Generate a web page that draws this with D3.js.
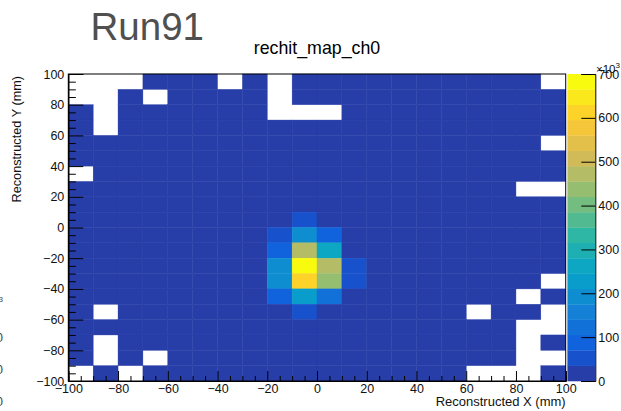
<!DOCTYPE html>
<html>
<head>
<meta charset="utf-8">
<script src="https://cdn.jsdelivr.net/npm/d3@7/dist/d3.min.js"></script>
<style>
  body { margin: 0; background: #fff; }
  text { font-family: "Liberation Sans", Arial, Helvetica, sans-serif; }
</style>
</head>
<body>
<svg id="canvas" width="621" height="411"></svg>
<script>
// ---- data: rechit map, channel 0 (counts in units of 10^3) ----
const runLabel = "Run91";
const histTitle = "rechit_map_ch0";
const xTitle = "Reconstructed X (mm)";
const yTitle = "Reconstructed Y (mm)";

// lower edges of the 10 mm bins
const xBinLow = [-100, -90, -80, -70, -60, -50, -40, -30, -20, -10, 0, 10, 20, 30, 40, 50, 60, 70, 80, 90];
// rows listed from top (y 90..100) down to bottom (y -100..-90)
const yBinLow = [90, 80, 70, 60, 50, 40, 30, 20, 10, 0, -10, -20, -30, -40, -50, -60, -70, -80, -90, -100];

const counts = [
  [ 0,  0,  0, 10, 10, 10,  0, 10,   0,  10,  10, 10, 10, 10, 10, 10, 10, 10, 10,  0],
  [ 0,  0, 10,  0, 10, 10, 10, 10,   0,  10,  10, 10, 10, 10, 10, 10, 10, 10, 10, 10],
  [10,  0, 10, 10, 10, 10, 10, 10,   0,   0,   0, 10, 10, 10, 10, 10, 10, 10, 10, 10],
  [10,  0, 10, 10, 10, 10, 10, 10,  10,  10,  10, 10, 10, 10, 10, 10, 10, 10, 10, 10],
  [10, 10, 10, 10, 10, 10, 10, 10,  10,  10,  10, 10, 10, 10, 10, 10, 10, 10, 10,  0],
  [10, 10, 10, 10, 10, 10, 10, 10,  10,  10,  10, 10, 10, 10, 10, 10, 10, 10, 10, 10],
  [ 0, 10, 10, 10, 10, 10, 10, 10,  10,  10,  10, 10, 10, 10, 10, 10, 10, 10, 10, 10],
  [10, 10, 10, 10, 10, 10, 10, 10,  10,  10,  10, 10, 10, 10, 10, 10, 10, 10,  0,  0],
  [10, 10, 10, 10, 10, 10, 10, 10,  10,  10,  10, 10, 10, 10, 10, 10, 10, 10, 10, 10],
  [10, 10, 10, 10, 10, 10, 10, 10,  10,  50,  10, 10, 10, 10, 10, 10, 10, 10, 10, 10],
  [10, 10, 10, 10, 10, 10, 10, 10,  48, 190,  88, 10, 10, 10, 10, 10, 10, 10, 10, 10],
  [10, 10, 10, 10, 10, 10, 10, 10,  95, 470, 262, 10, 10, 10, 10, 10, 10, 10, 10, 10],
  [10, 10, 10, 10, 10, 10, 10, 10, 195, 700, 478, 52, 10, 10, 10, 10, 10, 10, 10, 10],
  [10, 10, 10, 10, 10, 10, 10, 10, 192, 612, 440, 55, 10, 10, 10, 10, 10, 10, 10,  0],
  [10, 10, 10, 10, 10, 10, 10, 10,  92, 228, 120, 10, 10, 10, 10, 10, 10, 10,  0, 10],
  [10,  0, 10, 10, 10, 10, 10, 10,  10,  50,  10, 10, 10, 10, 10, 10,  0, 10, 10,  0],
  [10, 10, 10, 10, 10, 10, 10, 10,  10,  10,  10, 10, 10, 10, 10, 10, 10, 10,  0,  0],
  [10,  0, 10, 10, 10, 10, 10, 10,  10,  10,  10, 10, 10, 10, 10, 10, 10, 10,  0, 10],
  [10,  0, 10,  0, 10, 10, 10, 10,  10,  10,  10, 10, 10, 10, 10, 10, 10, 10,  0,  0],
  [ 0, 10,  0, 10, 10, 10, 10, 10,  10,  10,  10, 10, 10, 10, 10, 10,  0,  0,  0, 10]
];

const axisTicksMajor = [-100, -80, -60, -40, -20, 0, 20, 40, 60, 80, 100];
const zTicks = [0, 100, 200, 300, 400, 500, 600, 700];
const nContours = 20;
const binWidth = 10;

// "bird" colour map: stops and RGB fractions
const birdStops = [0.0, 0.125, 0.25, 0.375, 0.5, 0.625, 0.75, 0.875, 1.0];
const birdR = [0.2082, 0.0592, 0.0780, 0.0232, 0.1802, 0.5301, 0.8186, 0.9956, 0.9764];
const birdG = [0.1664, 0.3599, 0.5041, 0.6419, 0.7178, 0.7492, 0.7328, 0.7862, 0.9832];
const birdB = [0.5293, 0.8684, 0.8385, 0.7914, 0.6425, 0.4662, 0.3499, 0.1968, 0.0539];

// ---- layout ----
const frame = { left: 68.3, right: 565.7, top: 74, bottom: 381 };
const zBar = { left: 567.4, right: 595.3 };

const svg = d3.select("#canvas");

const x = d3.scaleLinear().domain([-100, 100]).range([frame.left, frame.right]);
const y = d3.scaleLinear().domain([-100, 100]).range([frame.bottom, frame.top]);

const zMax = d3.max(counts.flat());
const z = d3.scaleLinear().domain([0, zMax]).range([frame.bottom, frame.top]);

const bird = d3.scaleLinear()
  .domain(birdStops)
  .range(birdStops.map((s, i) => d3.rgb(birdR[i] * 255, birdG[i] * 255, birdB[i] * 255)))
  .interpolate(d3.interpolateRgb);

const nColors = 255;
const bandColor = k => bird(Math.floor((k + 0.99) * nColors / nContours) / (nColors - 1));
const band = d3.scaleQuantize().domain([0, zMax]).range(d3.range(nContours));

// ---- cells ----
const cells = [];
counts.forEach((row, r) => row.forEach((v, c) => {
  if (v > 0) cells.push({ x0: xBinLow[c], y0: yBinLow[r], v });
}));

svg.append("g").selectAll("rect").data(cells).join("rect")
  .attr("x", d => x(d.x0))
  .attr("y", d => y(d.y0 + binWidth))
  .attr("width", d => x(d.x0 + binWidth) - x(d.x0))
  .attr("height", d => y(d.y0) - y(d.y0 + binWidth))
  .attr("fill", d => bandColor(band(d.v)))
  .attr("stroke", d => bandColor(band(d.v)))
  .attr("stroke-width", 0.4);

// ---- frame and axes ----
const minorTicks = d3.range(-100, 101, 5).filter(t => t % 20 !== 0);

const styleAxis = g => {
  g.select(".domain").attr("stroke", "#000").attr("stroke-width", 1);
  g.selectAll(".tick line").attr("stroke", "#000").attr("stroke-width", 1);
  g.selectAll("text").attr("fill", "#111").style("font-size", "12.5px")
    .style("font-family", '"Liberation Sans", Arial, sans-serif');
};

// x axis, ticks pointing into the frame
svg.append("g").attr("transform", `translate(0,${frame.bottom})`)
  .call(d3.axisBottom(x).tickValues(minorTicks).tickSize(-5).tickFormat(""))
  .call(styleAxis);
svg.append("g").attr("transform", `translate(0,${frame.bottom})`)
  .call(d3.axisBottom(x).tickValues(axisTicksMajor).tickSize(-10).tickPadding(3))
  .call(styleAxis);

// y axis
svg.append("g").attr("transform", `translate(${frame.left},0)`)
  .call(d3.axisLeft(y).tickValues(minorTicks).tickSize(-7.5).tickFormat(""))
  .call(styleAxis);
svg.append("g").attr("transform", `translate(${frame.left},0)`)
  .call(d3.axisLeft(y).tickValues(axisTicksMajor).tickSize(-15).tickPadding(4))
  .call(styleAxis);

svg.append("rect")
  .attr("x", frame.left).attr("y", frame.top)
  .attr("width", frame.right - frame.left).attr("height", frame.bottom - frame.top)
  .attr("fill", "none").attr("stroke", "#000").attr("stroke-width", 1);

// ---- colour scale ----
const bandEdges = d3.range(nContours).map(k => ({ k, lo: k * zMax / nContours, hi: (k + 1) * zMax / nContours }));
svg.append("g").selectAll("rect").data(bandEdges).join("rect")
  .attr("x", zBar.left)
  .attr("y", d => z(d.hi))
  .attr("width", zBar.right - zBar.left)
  .attr("height", d => z(d.lo) - z(d.hi) + 0.3)
  .attr("fill", d => bandColor(d.k));

svg.append("g").attr("transform", `translate(${zBar.right},0)`)
  .call(d3.axisRight(z).tickValues(zTicks).tickSize(-14).tickPadding(3))
  .call(styleAxis);

const expo = svg.append("text").attr("x", 596).attr("y", 72.5)
  .attr("fill", "#111").style("font-size", "11.5px");
expo.append("tspan").text("×10");
expo.append("tspan").attr("dy", -5).style("font-size", "8px").text("3");

// ---- titles ----
svg.append("text").attr("x", 90.5).attr("y", 39.5)
  .attr("fill", "#505050").style("font-size", "38.5px").text(runLabel);

svg.append("text").attr("x", (frame.left + frame.right) / 2).attr("y", 54)
  .attr("text-anchor", "middle").attr("fill", "#000").style("font-size", "17.8px").text(histTitle);

svg.append("text").attr("x", frame.right).attr("y", 406)
  .attr("text-anchor", "end").attr("fill", "#111").style("font-size", "13px").text(xTitle);

svg.append("text")
  .attr("transform", `translate(20.5,${frame.top + 2}) rotate(-90)`)
  .attr("text-anchor", "end").attr("fill", "#111").style("font-size", "12.7px").text(yTitle);

// ---- edge of the neighbouring pad's colour scale labels ----
const neighbour = svg.append("g").attr("fill", "#444").style("font-size", "12.5px").attr("text-anchor", "end");
neighbour.append("text").attr("x", 3).attr("y", 302).style("font-size", "8px").text("3");
[342, 374, 406].forEach(yy => neighbour.append("text").attr("x", 3).attr("y", yy).text("0"));
</script>
</body>
</html>
